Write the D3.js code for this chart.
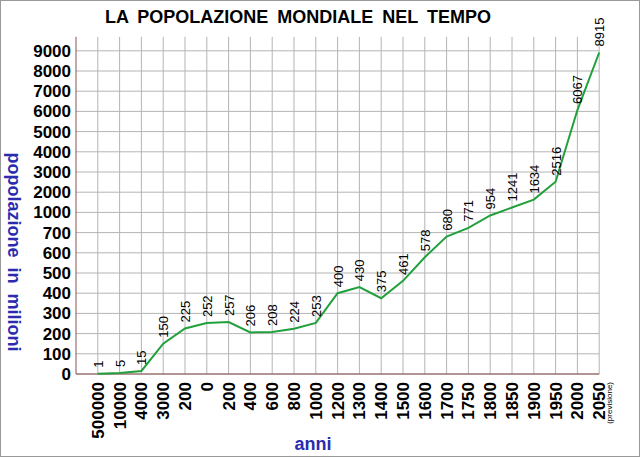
<!DOCTYPE html>
<html><head><meta charset="utf-8">
<script src="https://cdn.jsdelivr.net/npm/d3@7"></script>
<style>body{margin:0;background:#fff}svg{display:block;font-family:"Liberation Sans",Arial,sans-serif}</style>
</head><body><svg id="c" width="640" height="457"></svg>
<script>
// years (as printed) and population in millions
const years = ['500000','10000','4000','3000','200','0','200','400','600','800','1000','1200','1300','1400','1500','1600','1700','1750','1800','1850','1900','1950','2000','2050'];
const popolazione = [1,5,15,150,225,252,257,206,208,224,253,400,430,375,461,578,680,771,954,1241,1634,2516,6067,8915];
const yTicks = [0,100,200,300,400,500,600,700,1000,2000,3000,4000,5000,6000,7000,8000,9000];

const svg = d3.select('#c');
svg.append('rect').attr('x',0.5).attr('y',0.5).attr('width',639).attr('height',456)
  .attr('fill','#fff').attr('stroke','#999');

const u = 20.2, y0 = 374;
// the axis is piecewise: 0-700 and 1000-9000 share the same step
const y = d3.scaleLinear().domain([0,700,1000,9000]).range([y0, y0-7*u, y0-8*u, y0-16*u]);
const step = 21.8, x0 = 76;
const x = i => x0 + (i+1)*step;

const grid = svg.append('g');
yTicks.forEach(t => {
  grid.append('line').attr('x1',x0).attr('x2',x0+24*step).attr('y1',y(t)).attr('y2',y(t))
    .attr('stroke','#b4b4b4');
});
for (let k=1;k<=24;k++) grid.append('line').attr('x1',x0+k*step).attr('x2',x0+k*step)
  .attr('y1',y0).attr('y2',y0-16*u-14).attr('stroke','#b4b4b4');
svg.append('line').attr('x1',x0).attr('x2',x0).attr('y1',y0).attr('y2',y0-16*u-14).attr('stroke','#8a5050');
svg.append('line').attr('x1',x0).attr('x2',x0+24*step).attr('y1',y0).attr('y2',y0).attr('stroke','#8a5050');

svg.append('g').selectAll('text').data(yTicks).join('text')
  .attr('x',x0-5).attr('y',d=>y(d)+6).attr('text-anchor','end')
  .attr('font-size',17).attr('font-weight','bold').text(d=>d);

svg.append('path').datum(popolazione)
  .attr('d', d3.line().x((d,i)=>x(i)).y(d=>y(d)))
  .attr('fill','none').attr('stroke','#22a03c').attr('stroke-width',2);

svg.append('g').selectAll('text').data(popolazione).join('text')
  .attr('transform',(d,i)=>`translate(${x(i)+5},${y(d)-6}) rotate(-90)`)
  .attr('font-size',13).text(d=>d);

svg.append('g').selectAll('text').data(years).join('text')
  .attr('transform',(d,i)=>`translate(${x(i)+6},${y0+8}) rotate(-90)`)
  .attr('text-anchor','end').attr('font-size',17).attr('font-weight','bold').text(d=>d);
svg.append('text').attr('transform',`translate(${x(23)+13},${y0+8}) rotate(-90)`)
  .attr('text-anchor','end').attr('font-size',8).text('(previsione)');

svg.append('text').attr('x',105).attr('y',23).attr('font-size',18).attr('font-weight','bold')
  .attr('word-spacing',4).text('LA  POPOLAZIONE  MONDIALE  NEL  TEMPO');
svg.append('text').attr('x',313).attr('y',450).attr('text-anchor','middle')
  .attr('font-size',18).attr('font-weight','bold').attr('fill','#2b2bb0').text('anni');
svg.append('text').attr('transform','translate(8,252) rotate(90)').attr('text-anchor','middle')
  .attr('font-size',18).attr('font-weight','bold').attr('fill','#2b2bb0').attr('word-spacing',5).text('popolazione in milioni');
</script></body></html>
